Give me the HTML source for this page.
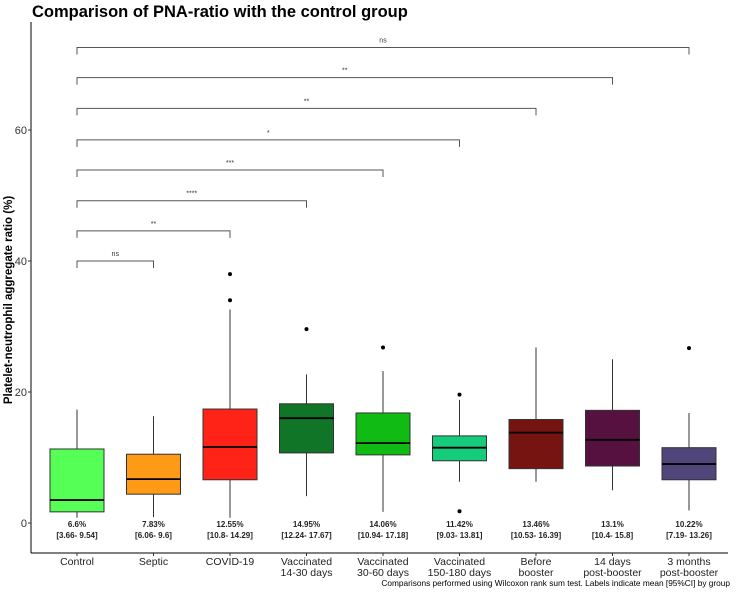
<!DOCTYPE html>
<html><head><meta charset="utf-8"><style>
body{margin:0;background:#fff}
svg{display:block;font-family:"Liberation Sans",sans-serif}
</style></head><body>
<svg id="chart" width="740" height="593" viewBox="0 0 740 593">
<text x="32" y="17" font-size="16.5" font-weight="bold" fill="#000">Comparison of PNA-ratio with the control group</text>
<text transform="translate(12,300) rotate(-90)" text-anchor="middle" font-size="11.5" font-weight="bold" fill="#000">Platelet-neutrophil aggregate ratio (%)</text>
<g id="plot"></g>
<text x="730" y="586" text-anchor="end" font-size="8.3" fill="#000">Comparisons performed using Wilcoxon rank sum test. Labels indicate mean [95%CI] by group</text>
</svg>
<script>
const categories = ["Control","Septic","COVID-19","Vaccinated\n14-30 days","Vaccinated\n30-60 days","Vaccinated\n150-180 days","Before\nbooster","14 days\npost-booster","3 months\npost-booster"];
const colors = ["#55ff55","#ff9a17","#ff2216","#117527","#10bb14","#14cc7a","#761412","#561141","#514679"];
const whiskerLow = [0.8,0.9,0.8,4.1,1.7,6.3,6.3,5.0,1.9];
const q1 = [1.7,4.4,6.6,10.7,10.4,9.5,8.3,8.7,6.6];
const medians = [3.5,6.7,11.6,16.0,12.2,11.5,13.8,12.7,9.0];
const q3 = [11.3,10.5,17.4,18.2,16.8,13.3,15.8,17.2,11.5];
const whiskerHigh = [17.3,16.3,32.6,22.7,23.2,18.8,26.8,25.0,16.8];
const outliers = [[],[],[34,38],[29.6],[26.8],[19.6,1.8],[],[],[26.7]];
const meanLabels = ["6.6%","7.83%","12.55%","14.95%","14.06%","11.42%","13.46%","13.1%","10.22%"];
const ciLabels = ["[3.66- 9.54]","[6.06- 9.6]","[10.8- 14.29]","[12.24- 17.67]","[10.94- 17.18]","[9.03- 13.81]","[10.53- 16.39]","[10.4- 15.8]","[7.19- 13.26]"];
const yTicks = [0,20,40,60];
const bracketTo = [1,2,3,4,5,6,7,8];
const bracketY = [40,44.6,49.2,53.9,58.5,63.3,68,72.6];
const bracketLabels = ["ns","**","****","***","*","**","**","ns"];

const NS="http://www.w3.org/2000/svg";
const g=document.getElementById('plot');
const X0=31, XB=553;
const yScale=v=>523-6.55*v;
const xScale=i=>77+76.5*i;
function el(t,a,p){const e=document.createElementNS(NS,t);for(const k in a)e.setAttribute(k,a[k]);(p||g).appendChild(e);return e;}

let ax=el('line',{x1:X0,y1:22,x2:X0,y2:XB,stroke:'#000','stroke-width':1});


let bx=el('line',{x1:X0,y1:XB,x2:728,y2:XB,stroke:'#000','stroke-width':1});



yTicks.forEach(v=>{
  const y=yScale(v);
  el('line',{x1:X0-3,y1:y,x2:X0,y2:y,stroke:'#333'});
  const t=el('text',{x:X0-4,y:y+4,'text-anchor':'end','font-size':11,fill:'#333'});
  t.textContent=v;
  
  
});

categories.forEach((c,i)=>{
  const x=xScale(i), hw=27;
  const grp=el('g',{});
  
  
  el('line',{x1:x,y1:yScale(whiskerHigh[i]),x2:x,y2:yScale(whiskerLow[i]),stroke:'#333','stroke-width':1},grp);
  el('rect',{x:x-hw,y:yScale(q3[i]),width:hw*2,height:yScale(q1[i])-yScale(q3[i]),fill:colors[i],stroke:'#333','stroke-width':1},grp);
  el('line',{x1:x-hw,y1:yScale(medians[i]),x2:x+hw,y2:yScale(medians[i]),stroke:'#000','stroke-width':1.8},grp);
  outliers[i].forEach(o=>{
    const d=el('circle',{cx:x,cy:yScale(o),r:2,fill:'#000'},grp);
    
    
  });
  const m=el('text',{x:x,y:527,'text-anchor':'middle','font-size':8,'font-weight':'bold',fill:'#222'});
  m.textContent=meanLabels[i];
  
  
  const ci=el('text',{x:x,y:538,'text-anchor':'middle','font-size':8,'font-weight':'bold',fill:'#222'});
  ci.textContent=ciLabels[i];
  
  
  el('line',{x1:x,y1:XB,x2:x,y2:XB+3,stroke:'#333'});
  c.split('\n').forEach((ln,k)=>{
    const t=el('text',{x:x,y:565+k*11,'text-anchor':'middle','font-size':10.5,fill:'#222'});
    t.textContent=ln;
    
    
  });
});

bracketTo.forEach((j,k)=>{
  const y=yScale(bracketY[k]), x1=xScale(0), x2=xScale(j);
  const p=el('path',{d:`M${x1},${y+7}V${y}H${x2}V${y+7}`,fill:'none',stroke:'#555','stroke-width':1});
  
  
  const t=el('text',{x:(x1+x2)/2,y:y-5,'text-anchor':'middle','font-size':7,fill:'#333'});
  t.textContent=bracketLabels[k];
  
  
});
</script>
</body></html>
